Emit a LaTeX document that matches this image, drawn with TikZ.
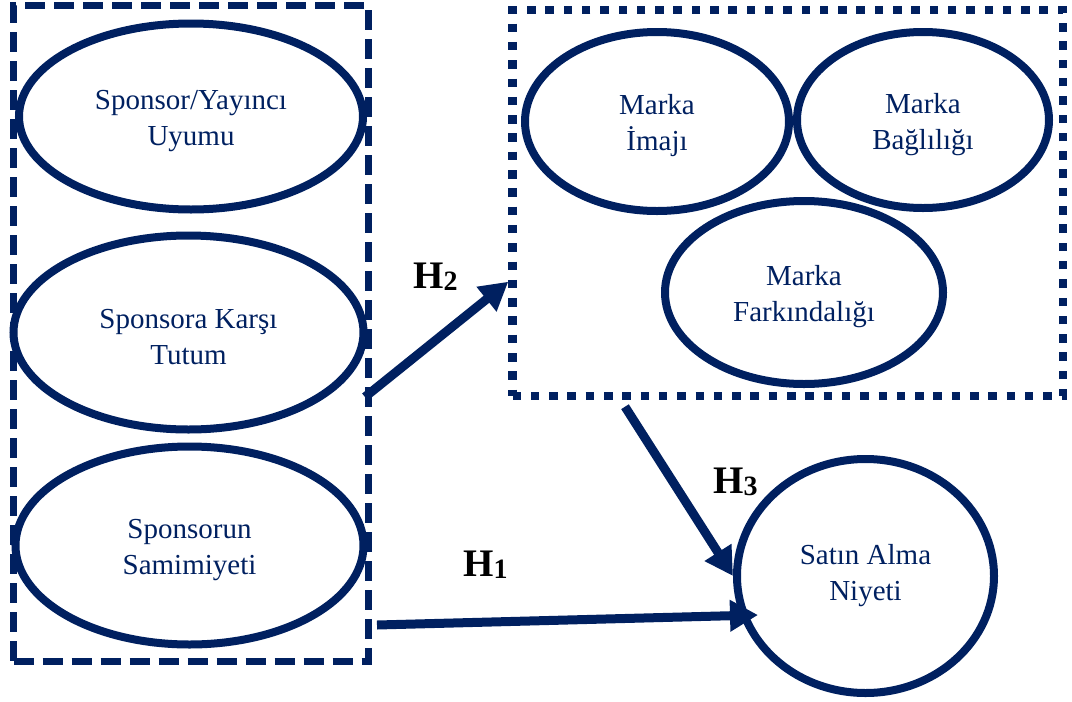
\documentclass[tikz,border=0pt]{standalone}
\usepackage{fontspec}
\setmainfont{Liberation Serif}
\usetikzlibrary{arrows.meta,shapes.geometric}
\definecolor{navy}{RGB}{0,32,96}
\newcommand{\txtdrop}{\rule{0pt}{29pt}}
\begin{document}
\begin{tikzpicture}[x=1pt,y=-1pt,
  oval/.style={ellipse,draw=navy,line width=8pt,inner sep=0pt,text=navy,align=center,
    font=\fontsize{29}{36}\selectfont},
  dashbox/.style={draw=navy,line width=7pt,dash pattern=on 20pt off 9pt,inner sep=0pt},
  dotbox/.style={draw=navy,line width=8.5pt,dash pattern=on 8.5pt off 9.8pt,inner sep=0pt},
  hyp/.style={draw=navy,line width=9pt,-{Triangle[length=28pt,width=30pt]}},
  hlbl/.style={inner sep=0pt,anchor=base west,text=black,font=\fontsize{39}{39}\selectfont\bfseries}
]
\useasboundingbox (0,0) rectangle (1072,702);

% group boxes
\node[dashbox,minimum width=354.5pt,minimum height=656pt] (lbox) at (190.75,333) {};
\node[dotbox,minimum width=550.5pt,minimum height=386pt] (rbox) at (787.75,203) {};

% left ellipses
\node[oval,minimum width=344pt,minimum height=186pt] (uyum) at (191,116.5) {\txtdrop Sponsor/Yayıncı\\Uyumu};
\node[oval,minimum width=350pt,minimum height=194pt] (tutum) at (188.5,332.5) {\txtdrop Sponsora Karşı\\Tutum};
\node[oval,minimum width=348pt,minimum height=198pt] (samimi) at (189.5,545.5) {\txtdrop Sponsorun\\Samimiyeti};

% right ellipses
\node[oval,minimum width=264pt,minimum height=179pt] (imaj) at (657,121.5) {\txtdrop Marka\\İmajı};
\node[oval,minimum width=252pt,minimum height=176pt] (bagli) at (923,120) {\txtdrop Marka\\Bağlılığı};
\node[oval,minimum width=278pt,minimum height=183pt] (fark) at (804,292.5) {\txtdrop Marka\\Farkındalığı};

% outcome
\node[oval,minimum width=257pt,minimum height=234pt] (sat) at (865.5,576) {Satın Alma\\Niyeti};

% connector ends
\coordinate (h2s) at (365,397);
\coordinate (h2e) at (508.3,281.7);
\coordinate (h3s) at (625,406.7);
\coordinate (h1s) at (377,625);
\coordinate (h1e) at (758,615);

\draw[hyp] (h2s) -- (h2e);
\draw[hyp] (h3s) -- (sat.west);
\draw[hyp] (h1s) -- (h1e);

% labels
\node[hlbl] (lh2) at (413,288) {H\raisebox{-2pt}{\fontsize{28}{28}\selectfont 2}};
\node[hlbl] (lh3) at (713,493) {H\raisebox{-2pt}{\fontsize{28}{28}\selectfont 3}};
\node[hlbl] (lh1) at (463,576) {H\raisebox{-2pt}{\fontsize{28}{28}\selectfont 1}};
\end{tikzpicture}
\end{document}
